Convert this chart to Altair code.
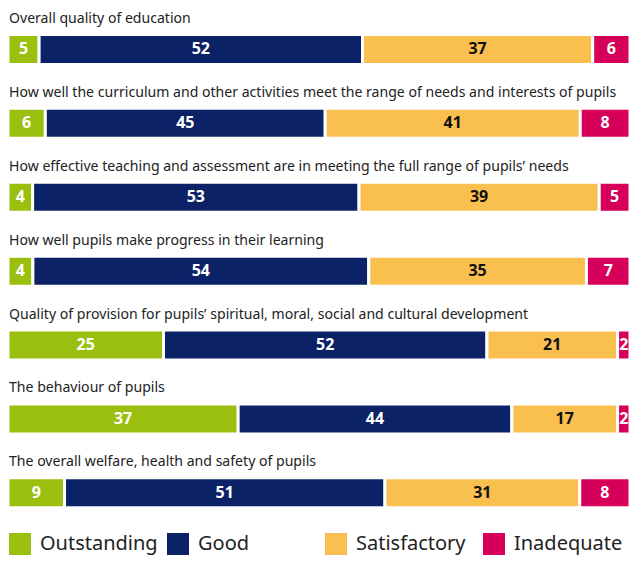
import altair as alt
import pandas as pd

questions = [
    "Overall quality of education",
    "How well the curriculum and other activities meet the range of needs and interests of pupils",
    "How effective teaching and assessment are in meeting the full range of pupils’ needs",
    "How well pupils make progress in their learning",
    "Quality of provision for pupils’ spiritual, moral, social and cultural development",
    "The behaviour of pupils",
    "The overall welfare, health and safety of pupils",
]
categories = ["Outstanding", "Good", "Satisfactory", "Inadequate"]
colors = ["#9bbf0f", "#0c2266", "#fac04f", "#d6005a"]
text_colors = ["#ffffff", "#ffffff", "#111111", "#ffffff"]
outstanding = [5, 6, 4, 4, 25, 37, 9]
good = [52, 45, 53, 54, 52, 44, 51]
satisfactory = [37, 41, 39, 35, 21, 17, 31]
inadequate = [6, 8, 5, 7, 2, 2, 8]

series = [outstanding, good, satisfactory, inadequate]
rows = []
for ci, (cat, vals) in enumerate(zip(categories, series)):
    for qi, q in enumerate(questions):
        rows.append({"row": qi, "question": q, "category": cat, "order": ci,
                     "value": vals[qi], "tcolor": text_colors[ci]})
df = pd.DataFrame(rows)

FONT = "Noto Sans"
ROW = 73.9

base = alt.Chart(df).transform_window(
    cum="sum(value)", groupby=["row"], sort=[alt.SortField("order")], frame=[None, 0]
).transform_joinaggregate(
    total="sum(value)", groupby=["row"]
).transform_calculate(
    x0="(datum.cum - datum.value) / datum.total",
    x1="datum.cum / datum.total",
    xm="(datum.cum - datum.value / 2) / datum.total",
)

yenc = alt.Y("row:O", axis=None, scale=alt.Scale(paddingInner=0, paddingOuter=0))
xscale = alt.Scale(domain=[0, 1], nice=False, zero=True)

bars = base.mark_bar(height=30, stroke="white", strokeWidth=3).encode(
    x=alt.X("x0:Q", scale=xscale, axis=None),
    x2="x1:Q",
    y=yenc,
    color=alt.Color(
        "category:N",
        scale=alt.Scale(domain=categories, range=colors),
        legend=alt.Legend(
            title=None, orient="none", legendX=1, legendY=520.5, direction="horizontal",
            columns=4, gridAlign="all", symbolType="square", symbolSize=484,
            symbolStrokeWidth=0, symbolOpacity=1, labelFont=FONT, labelFontSize=20,
            labelColor="#222222", labelOffset=9, columnPadding=9, labelLimit=200,
            symbolOffset=0,
        ),
    ),
)

labels = base.mark_text(font=FONT, fontSize=16, fontWeight="bold", baseline="middle").encode(
    x=alt.X("xm:Q", scale=xscale),
    y=yenc,
    text=alt.Text("value:Q"),
    color=alt.Color("tcolor:N", scale=None),
)

titles = alt.Chart(df[df["category"] == "Outstanding"]).mark_text(
    font=FONT, fontSize=14.1, align="left", baseline="middle", dy=-30.5, color="#222222",
).encode(
    x=alt.value(1),
    y=yenc,
    text="question:N",
)

chart = alt.layer(bars, labels, titles).properties(
    width=622, height=ROW * 7,
    padding={"left": 0, "top": 4.5, "right": 0, "bottom": 25},
    autosize=alt.AutoSizeParams(type="none"),
).configure_view(stroke=None)

chart.save("out.html", embed_options={"renderer": "svg", "actions": False})
